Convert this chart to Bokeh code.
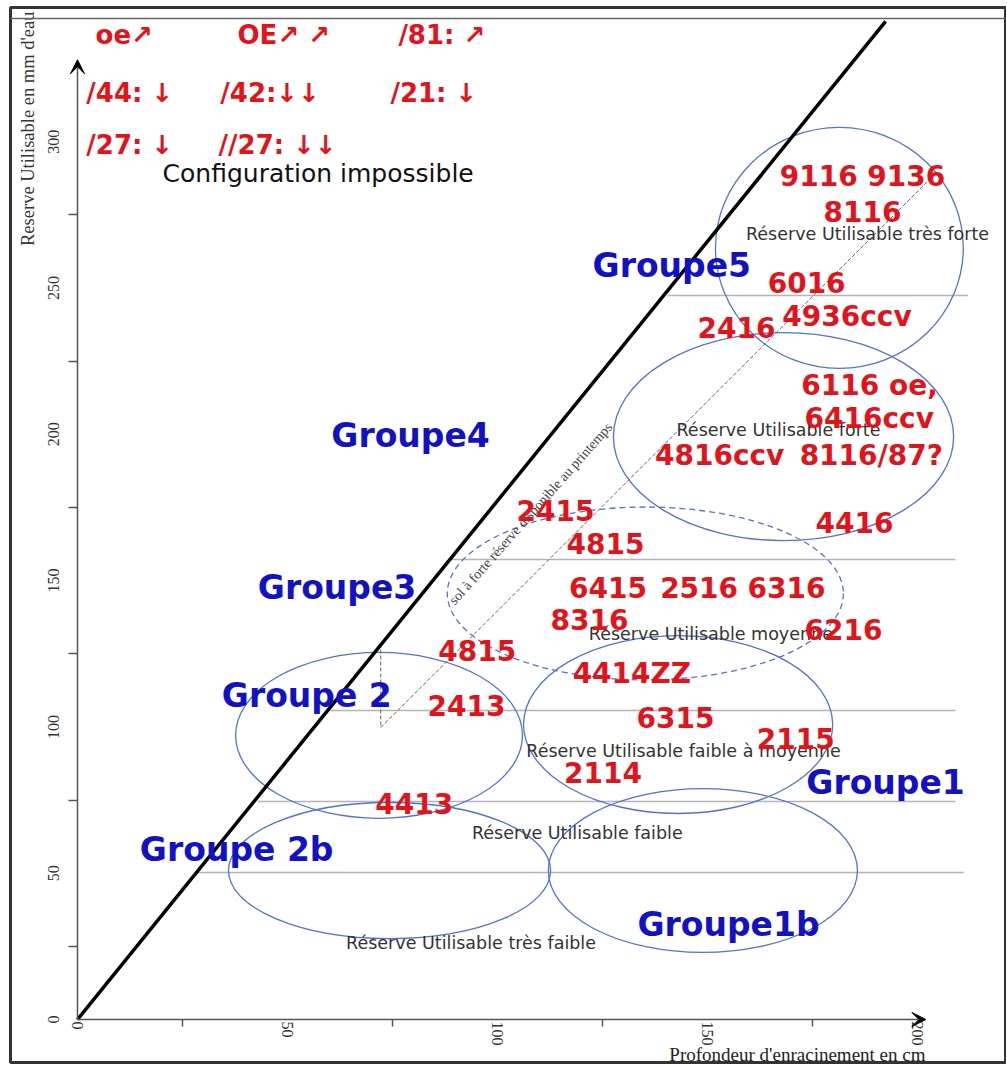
import math
from bokeh.plotting import figure
from bokeh.models import FixedTicker, Arrow, VeeHead, Span
from bokeh.core.properties import value
from bokeh.embed import file_html
from bokeh.resources import INLINE

# ---- axes ----
x_label_values = [0, 50, 100, 150, 200]
x_minor_values = [25, 75, 125, 175]
y_label_values = [0, 50, 100, 150, 200, 250, 300]
y_minor_values = [25, 75, 125, 175, 225, 275]
x_axis_end = 202
y_axis_end = 328
x_title = "Profondeur d'enracinement en cm"
y_title = "Reserve Utilisable en mm d'eau"

# ---- limit line (configuration impossible above it) ----
limit_x = [0, 192.4]
limit_y = [0, 341.1]

# ---- class boundaries (gray horizontal lines) ----
band_y = [247.4, 157.2, 105.6, 74.5, 50.2]
band_x0 = [140.5, 88.8, 60.2, 42.9, 28.6]
band_x1 = [212.0, 209.0, 209.0, 209.0, 211.0]

# ---- spring reserve line ----
spring_x = [72.2, 72.2, 203.6]
spring_y = [128.5, 99.8, 288.1]
spring_text = "sol à forte réserve disponible au printemps"
spring_text_x = [107.9]
spring_text_y = [172.9]

# ---- ellipses (groups) ----
ell_x = [181.4, 168.1, 143.0, 71.8, 74.3, 148.9]
ell_y = [263.7, 199.2, 100.8, 97.1, 50.9, 50.9]
ell_w = [59.0, 81.0, 73.6, 68.3, 76.7, 73.6]
ell_h = [82.4, 71.1, 60.8, 56.7, 46.5, 56.0]
dash_ell_x = [135.2]
dash_ell_y = [145.6]
dash_ell_w = [94.3]
dash_ell_h = [59.1]

# ---- reserve class labels ----
ru_labels = ["Réserve Utilisable très forte", "Réserve Utilisable forte",
             "Réserve Utilisable moyenne", "Réserve Utilisable faible à moyenne",
             "Réserve Utilisable faible", "Réserve Utilisable très faible"]
ru_x = [188.1, 166.9, 150.8, 144.3, 119.0, 93.7]
ru_y = [268.3, 201.3, 131.9, 91.9, 63.6, 26.0]

# ---- group labels ----
grp_labels = ["Groupe5", "Groupe4", "Groupe3", "Groupe 2", "Groupe 2b", "Groupe1", "Groupe1b"]
grp_x = [141.5, 79.3, 61.8, 54.6, 37.9, 192.4, 155.0]
grp_y = [257.7, 199.6, 147.6, 110.7, 58.1, 81.0, 32.5]

# ---- soil codes ----
code_labels = ["9116 9136", "8116", "6016", "4936ccv", "2416", "6116 oe,", "6416ccv",
               "4816ccv", "8116/87?", "2415", "4815", "4416", "6415", "2516", "6316",
               "8316", "6216", "4815", "4414ZZ", "2413", "6315", "2115", "2114", "4413"]
code_x = [186.9, 186.9, 173.6, 183.2, 156.9, 188.6, 188.5,
          152.9, 189.0, 113.8, 125.7, 185.0, 126.3, 148.0, 168.8,
          121.9, 182.4, 95.2, 132.0, 92.6, 142.4, 171.0, 125.1, 80.2]
code_y = [288.1, 276.1, 251.9, 240.3, 236.5, 216.7, 205.4,
          192.8, 192.8, 174.0, 162.7, 169.9, 147.6, 147.6, 147.6,
          136.7, 133.3, 126.1, 118.3, 107.3, 103.2, 96.0, 84.4, 73.8]

# ---- legend notes (top left) ----
note_labels = ["oe↗", "OE↗ ↗", "/81: ↗", "/44: ↓", "/42:↓↓", "/21: ↓", "/27: ↓", "//27: ↓↓"]
note_x = [4.3, 38.1, 76.4, 2.1, 34.0, 74.5, 2.1, 33.6]
note_y = [336.3, 336.3, 336.3, 316.8, 316.8, 316.8, 298.7, 298.7]
impossible_label = "Configuration impossible"
impossible_x = [57.3]
impossible_y = [289.1]

RED = "#e2141b"
BLUE = "#1212c2"
ELL = "#5272d6"

p = figure(width=1006, height=1064, x_range=(-15.95, 220.95), y_range=(-14.70, 345.86),
           min_border_left=10, min_border_top=7, min_border_right=1, min_border_bottom=2,
           toolbar_location=None, output_backend="svg")
p.grid.visible = False
p.background_fill_color = "white"
p.border_fill_color = "white"
p.outline_line_color = "#333333"
p.outline_line_width = 3

for ax in (p.xaxis[0], p.yaxis[0]):
    ax.fixed_location = 0
    ax.axis_line_color = None
    ax.major_tick_line_color = None
    ax.major_tick_out = 0
    ax.major_tick_in = 0
    ax.minor_tick_line_color = "#555555"
    ax.minor_tick_line_width = 1.5
    ax.minor_tick_in = 0
    ax.major_label_orientation = "vertical"
    ax.major_label_text_font = "Liberation Serif"
    ax.major_label_text_font_size = "16px"
    ax.major_label_text_color = "#333333"
p.xaxis.ticker = FixedTicker(ticks=x_label_values, minor_ticks=x_minor_values)
p.yaxis.ticker = FixedTicker(ticks=y_label_values, minor_ticks=y_minor_values)
p.xaxis.minor_tick_out = 7
p.yaxis.minor_tick_out = 9
p.xaxis.major_label_standoff = -5
p.yaxis.major_label_standoff = 9

# top frame line
p.add_layout(Span(location=342.1, dimension="width", line_color="#666666", line_width=1.5))

# axis arrows
p.add_layout(Arrow(x_start=0, y_start=0, x_end=0, y_end=y_axis_end, line_color="#555555", line_width=1.5,
                   end=VeeHead(size=14, fill_color="black", line_color="black")))
p.add_layout(Arrow(x_start=0, y_start=0, x_end=x_axis_end, y_end=0, line_color="#555555", line_width=1.5,
                   end=VeeHead(size=14, fill_color="black", line_color="black")))

# gray class boundaries
p.segment(x0=band_x0, y0=band_y, x1=band_x1, y1=band_y, line_color="#b4b4b4", line_width=1.5)

# ellipses
p.ellipse(x=ell_x, y=ell_y, width=ell_w, height=ell_h, fill_color=None, line_color=ELL, line_width=1.3)
p.ellipse(x=dash_ell_x, y=dash_ell_y, width=dash_ell_w, height=dash_ell_h, fill_color=None,
          line_color=ELL, line_width=1.3, line_dash="6 4")

# spring line + text
p.line(spring_x, spring_y, line_color="#666666", line_width=1, line_dash="4 2")
p.text(x=spring_text_x, y=spring_text_y, text=[spring_text], angle=math.radians(48.4),
       text_align="center", text_baseline="middle", text_font=value("Liberation Serif"),
       text_font_size="14px", text_color="#444444")

# limit line
p.line(limit_x, limit_y, line_color="black", line_width=3.5)

# RU labels
p.text(x=ru_x, y=ru_y, text=ru_labels, text_align="center", text_baseline="middle",
       text_font=value("DejaVu Sans"), text_font_size="17.5px", text_color="#333333")

# codes
p.text(x=code_x, y=code_y, text=code_labels, text_align="center", text_baseline="middle",
       text_font=value("DejaVu Sans"), text_font_style="bold", text_font_size="28px", text_color=RED)

# groups
p.text(x=grp_x, y=grp_y, text=grp_labels, text_align="center", text_baseline="middle",
       text_font=value("DejaVu Sans"), text_font_style="bold", text_font_size="33px", text_color=BLUE)

# notes
p.text(x=note_x, y=note_y, text=note_labels, text_align="left", text_baseline="middle",
       text_font=value("DejaVu Sans"), text_font_style="bold", text_font_size="26px", text_color=RED)
p.text(x=impossible_x, y=impossible_y, text=[impossible_label], text_align="center", text_baseline="middle",
       text_font=value("DejaVu Sans"), text_font_size="25px", text_color="#111111")

# axis titles
p.text(x=[-11.67], y=[344.5], text=[y_title], angle=math.pi / 2, text_align="right", text_baseline="middle",
       text_font=value("Liberation Serif"), text_font_size="18.5px", text_color="#333333")
p.text(x=[201.9], y=[-12.0], text=[x_title], text_align="right", text_baseline="middle",
       text_font=value("Liberation Serif"), text_font_size="19px", text_color="#222222")

open("out.html", "w").write(file_html(p, INLINE))
